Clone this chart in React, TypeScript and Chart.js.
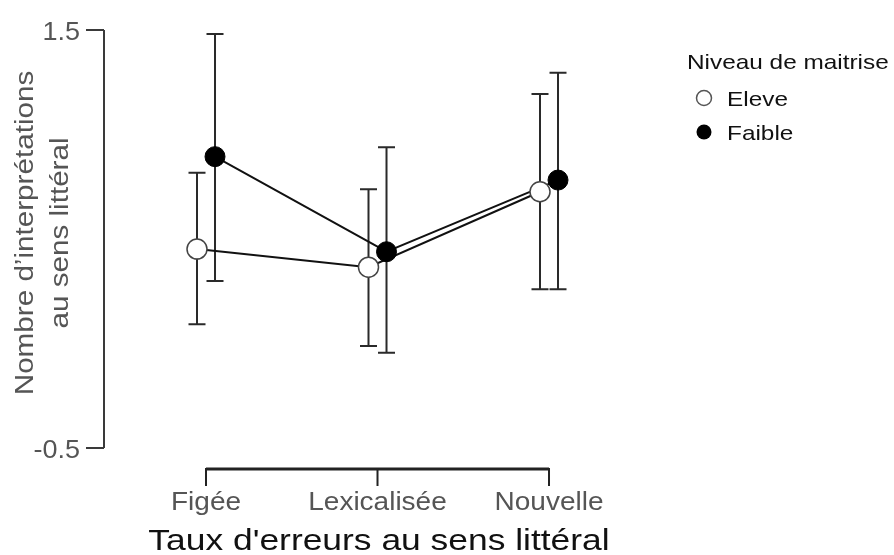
import React, { useEffect, useRef } from "react";
import { Chart, registerables } from "chart.js";

Chart.register(...registerables);

// ---- data ----
const categories = ["Figée", "Lexicalisée", "Nouvelle"];
const seriesNames = ["Eleve", "Faible"];
const eleveMean = [0.452, 0.365, 0.726];
const eleveLow = [0.092, -0.012, 0.259];
const eleveHigh = [0.817, 0.738, 1.194];
const faibleMean = [0.894, 0.439, 0.782];
const faibleLow = [0.299, -0.044, 0.259];
const faibleHigh = [1.481, 0.939, 1.296];
const yTicks = [1.5, -0.5];
const yTickLabels = ["1.5", "-0.5"];
const xTitle = "Taux d'erreurs au sens littéral";
const yTitleLines = ["Nombre d’interprétations", "au sens littéral"];
const legendTitle = "Niveau de maitrise";

const DODGE = 0.0525;
const X_MIN = 0.4052;
const X_MAX = 3.5889;
const FONT = '"Liberation Sans", Arial, Helvetica, sans-serif';

function drawText(
  ctx: CanvasRenderingContext2D,
  text: string,
  x: number,
  y: number,
  o: { size: number; color: string; align: CanvasTextAlign; baseline: CanvasTextBaseline; stretch: number; rotate?: number }
) {
  ctx.save();
  ctx.translate(x, y);
  if (o.rotate) ctx.rotate(o.rotate);
  ctx.scale(o.stretch, 1);
  ctx.font = `${o.size}px ${FONT}`;
  ctx.fillStyle = o.color;
  ctx.textAlign = o.align;
  ctx.textBaseline = o.baseline;
  ctx.fillText(text, 0, 0);
  ctx.restore();
}

const pts = (means: number[], off: number) => means.map((m, i) => ({ x: i + 1 + off, y: m }));

const decorPlugin = {
  id: "decor",
  beforeDatasetsDraw(chart: any) {
    const ctx: CanvasRenderingContext2D = chart.ctx;
    const xs = chart.scales.x;
    const ys = chart.scales.y;
    const series = [
      { low: eleveLow, high: eleveHigh, off: -DODGE },
      { low: faibleLow, high: faibleHigh, off: DODGE },
    ];
    ctx.save();
    ctx.strokeStyle = "#2a2a2a";
    ctx.lineWidth = 2;
    for (const s of series) {
      s.low.forEach((lo, i) => {
        const x = xs.getPixelForValue(i + 1 + s.off);
        const yl = ys.getPixelForValue(lo);
        const yh = ys.getPixelForValue(s.high[i]);
        ctx.beginPath();
        ctx.moveTo(x, yl);
        ctx.lineTo(x, yh);
        ctx.moveTo(x - 8.5, yl);
        ctx.lineTo(x + 8.5, yl);
        ctx.moveTo(x - 8.5, yh);
        ctx.lineTo(x + 8.5, yh);
        ctx.stroke();
      });
    }
    ctx.restore();
  },
  afterDraw(chart: any) {
    const ctx: CanvasRenderingContext2D = chart.ctx;
    const xs = chart.scales.x;
    const ys = chart.scales.y;
    const area = chart.chartArea;
    ctx.save();

    // Y axis (range frame)
    const x0 = area.left;
    const yTop = ys.getPixelForValue(Math.max(...yTicks));
    const yBot = ys.getPixelForValue(Math.min(...yTicks));
    ctx.strokeStyle = "#3a3a3a";
    ctx.lineWidth = 2;
    ctx.beginPath();
    ctx.moveTo(x0, yTop);
    ctx.lineTo(x0, yBot);
    yTicks.forEach((t) => {
      const y = ys.getPixelForValue(t);
      ctx.moveTo(x0 - 18, y);
      ctx.lineTo(x0, y);
    });
    ctx.stroke();
    yTicks.forEach((t, i) => {
      const y = ys.getPixelForValue(t);
      drawText(ctx, yTickLabels[i], x0 - 24, y + 9.5, {
        size: 25, color: "#555", align: "right", baseline: "alphabetic", stretch: 1.08,
      });
    });

    // Y title
    const yMid = 233;
    drawText(ctx, yTitleLines[0], 33, yMid, {
      size: 26, color: "#555", align: "center", baseline: "alphabetic", stretch: 1.14, rotate: -Math.PI / 2,
    });
    drawText(ctx, yTitleLines[1], 68, yMid, {
      size: 26, color: "#555", align: "center", baseline: "alphabetic", stretch: 1.14, rotate: -Math.PI / 2,
    });

    // X axis bracket
    const yb = 469;
    const xFirst = xs.getPixelForValue(1);
    const xLast = xs.getPixelForValue(categories.length);
    ctx.strokeStyle = "#222";
    ctx.lineWidth = 3;
    ctx.beginPath();
    ctx.moveTo(xFirst, yb);
    ctx.lineTo(xLast, yb);
    ctx.stroke();
    ctx.lineWidth = 2;
    ctx.beginPath();
    categories.forEach((_, i) => {
      const x = xs.getPixelForValue(i + 1);
      ctx.moveTo(x, yb - 1);
      ctx.lineTo(x, yb + 17);
    });
    ctx.stroke();
    categories.forEach((c, i) => {
      const x = xs.getPixelForValue(i + 1);
      drawText(ctx, c, x, 510, {
        size: 25, color: "#555", align: "center", baseline: "alphabetic", stretch: 1.12,
      });
    });

    // X title
    drawText(ctx, xTitle, 379, 550, {
      size: 30, color: "#111", align: "center", baseline: "alphabetic", stretch: 1.18,
    });

    // Legend
    drawText(ctx, legendTitle, 687, 68.5, {
      size: 21, color: "#111", align: "left", baseline: "alphabetic", stretch: 1.16,
    });
    const legendY = [98, 132];
    seriesNames.forEach((name, i) => {
      const cy = legendY[i];
      ctx.beginPath();
      ctx.arc(704, cy, 7.5, 0, Math.PI * 2);
      if (name === "Eleve") {
        ctx.fillStyle = "#fff";
        ctx.fill();
        ctx.strokeStyle = "#555";
        ctx.lineWidth = 1.5;
        ctx.stroke();
      } else {
        ctx.fillStyle = "#000";
        ctx.fill();
      }
      drawText(ctx, name, 727, cy + 7.5, {
        size: 21, color: "#111", align: "left", baseline: "alphabetic", stretch: 1.16,
      });
    });

    ctx.restore();
  },
};

export default function App() {
  const canvasRef = useRef<HTMLCanvasElement | null>(null);

  useEffect(() => {
    document.body.style.margin = "0";
    const canvas = canvasRef.current;
    if (!canvas) return;
    const chart = new Chart(canvas, {
      type: "scatter",
      data: {
        datasets: [
          {
            label: "Faible",
            data: pts(faibleMean, DODGE),
            showLine: false,
            pointRadius: 10,
            pointBackgroundColor: "#000",
            pointBorderColor: "#000",
            pointBorderWidth: 1,
            order: 0,
          },
          {
            label: "Eleve",
            data: pts(eleveMean, -DODGE),
            showLine: false,
            pointRadius: 10,
            pointBackgroundColor: "#fff",
            pointBorderColor: "#444",
            pointBorderWidth: 1.5,
            order: 1,
          },
          {
            label: "Faible line",
            data: pts(faibleMean, DODGE),
            showLine: true,
            pointRadius: 0,
            borderColor: "#111",
            borderWidth: 2,
            order: 2,
          },
          {
            label: "Eleve line",
            data: pts(eleveMean, -DODGE),
            showLine: true,
            pointRadius: 0,
            borderColor: "#111",
            borderWidth: 2,
            order: 3,
          },
        ],
      },
      options: {
        animation: false,
        responsive: true,
        maintainAspectRatio: false,
        events: [],
        layout: { padding: { left: 104, top: 30, right: 244, bottom: 107 } },
        scales: {
          x: { type: "linear", min: X_MIN, max: X_MAX, display: false },
          y: { type: "linear", min: -0.5, max: 1.5, display: false },
        },
        plugins: {
          legend: { display: false },
          tooltip: { enabled: false },
          title: { display: false },
        },
      },
      plugins: [decorPlugin],
    });
    return () => chart.destroy();
  }, []);

  return (
    <div style={{ position: "absolute", left: 0, top: 0, width: 894, height: 555, background: "#fff" }}>
      <canvas ref={canvasRef} />
    </div>
  );
}
